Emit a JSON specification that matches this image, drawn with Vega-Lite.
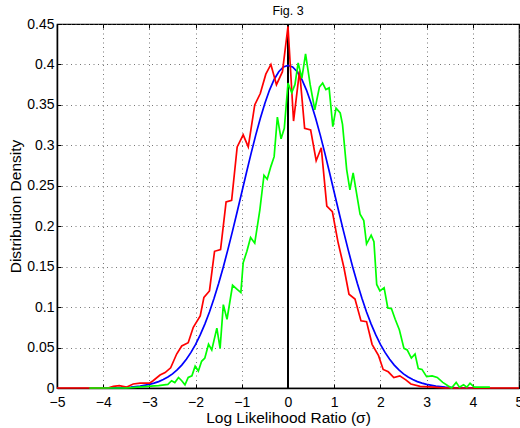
{
  "$schema": "https://vega.github.io/schema/vega-lite/v6.json",
  "width": 462,
  "height": 364,
  "autosize": {"type": "none"},
  "padding": {"left": 57, "top": 24, "right": 1, "bottom": 40},
  "background": "white",
  "title": {"text": "Fig. 3", "fontSize": 12.5, "fontWeight": "normal", "font": "Liberation Sans", "color": "#000", "anchor": "middle", "offset": 0},
  "config": {
    "font": "Liberation Sans",
    "view": {"stroke": "#000", "strokeWidth": 1.2},
    "axis": {
      "domainColor": "#000", "domainWidth": 1.5,
      "tickColor": "#000", "tickWidth": 1, "tickSize": -4,
      "labelFont": "Liberation Sans", "labelFontSize": 14, "labelColor": "#000",
      "titleFont": "Liberation Sans", "titleFontSize": 15.5, "titleFontWeight": "normal", "titleColor": "#000",
      "gridColor": "#555", "gridDash": [1, 3.5], "gridWidth": 1, "gridOpacity": 0.8
    }
  },
  "resolve": {"axis": {"x": "independent", "y": "independent"}},
  "datasets": {
    "zero": [{"x": 0, "y": 0, "y2": 0.45}],
    "blue": [
      {"x": -4, "y": 0.0001}, {"x": -3.8, "y": 0.0003}, {"x": -3.6, "y": 0.0006}, {"x": -3.4, "y": 0.0012}, {"x": -3.2, "y": 0.0024},
      {"x": -3.0, "y": 0.0044}, {"x": -2.9, "y": 0.006}, {"x": -2.8, "y": 0.0079}, {"x": -2.7, "y": 0.0104}, {"x": -2.6, "y": 0.0136},
      {"x": -2.5, "y": 0.0175}, {"x": -2.4, "y": 0.0224}, {"x": -2.3, "y": 0.0283}, {"x": -2.2, "y": 0.0355}, {"x": -2.1, "y": 0.044},
      {"x": -2.0, "y": 0.054}, {"x": -1.9, "y": 0.0656}, {"x": -1.8, "y": 0.079}, {"x": -1.7, "y": 0.094}, {"x": -1.6, "y": 0.1109},
      {"x": -1.5, "y": 0.1295}, {"x": -1.4, "y": 0.1497}, {"x": -1.3, "y": 0.1714}, {"x": -1.2, "y": 0.1942}, {"x": -1.1, "y": 0.2179},
      {"x": -1.0, "y": 0.242}, {"x": -0.9, "y": 0.2661}, {"x": -0.8, "y": 0.2897}, {"x": -0.7, "y": 0.3123}, {"x": -0.6, "y": 0.3332},
      {"x": -0.5, "y": 0.3521}, {"x": -0.4, "y": 0.3683}, {"x": -0.3, "y": 0.3814}, {"x": -0.2, "y": 0.391}, {"x": -0.1, "y": 0.397},
      {"x": 0, "y": 0.3989},
      {"x": 0.1, "y": 0.397}, {"x": 0.2, "y": 0.391}, {"x": 0.3, "y": 0.3814}, {"x": 0.4, "y": 0.3683}, {"x": 0.5, "y": 0.3521},
      {"x": 0.6, "y": 0.3332}, {"x": 0.7, "y": 0.3123}, {"x": 0.8, "y": 0.2897}, {"x": 0.9, "y": 0.2661}, {"x": 1.0, "y": 0.242},
      {"x": 1.1, "y": 0.2179}, {"x": 1.2, "y": 0.1942}, {"x": 1.3, "y": 0.1714}, {"x": 1.4, "y": 0.1497}, {"x": 1.5, "y": 0.1295},
      {"x": 1.6, "y": 0.1109}, {"x": 1.7, "y": 0.094}, {"x": 1.8, "y": 0.079}, {"x": 1.9, "y": 0.0656}, {"x": 2.0, "y": 0.054},
      {"x": 2.1, "y": 0.044}, {"x": 2.2, "y": 0.0355}, {"x": 2.3, "y": 0.0283}, {"x": 2.4, "y": 0.0224}, {"x": 2.5, "y": 0.0175},
      {"x": 2.6, "y": 0.0136}, {"x": 2.7, "y": 0.0104}, {"x": 2.8, "y": 0.0079}, {"x": 2.9, "y": 0.006}, {"x": 3.0, "y": 0.0044},
      {"x": 3.2, "y": 0.0024}, {"x": 3.4, "y": 0.0012}, {"x": 3.6, "y": 0.0006}, {"x": 3.8, "y": 0.0003}, {"x": 4.0, "y": 0.0001}
    ],
    "red": [
      {"x": -5, "y": 0}, {"x": -3.9, "y": 0}, {"x": -3.78, "y": 0.002}, {"x": -3.65, "y": 0.003}, {"x": -3.5, "y": 0.001},
      {"x": -3.35, "y": 0.005}, {"x": -3.2, "y": 0.006}, {"x": -3.0, "y": 0.006}, {"x": -2.92, "y": 0.009}, {"x": -2.77, "y": 0.016},
      {"x": -2.66, "y": 0.019}, {"x": -2.54, "y": 0.025}, {"x": -2.41, "y": 0.042}, {"x": -2.3, "y": 0.052}, {"x": -2.16, "y": 0.056},
      {"x": -2.05, "y": 0.075}, {"x": -1.9, "y": 0.089}, {"x": -1.82, "y": 0.112}, {"x": -1.7, "y": 0.12}, {"x": -1.59, "y": 0.169},
      {"x": -1.46, "y": 0.171}, {"x": -1.34, "y": 0.23}, {"x": -1.22, "y": 0.232}, {"x": -1.1, "y": 0.298}, {"x": -0.97, "y": 0.313},
      {"x": -0.86, "y": 0.298}, {"x": -0.72, "y": 0.35}, {"x": -0.6, "y": 0.364}, {"x": -0.48, "y": 0.388}, {"x": -0.37, "y": 0.4},
      {"x": -0.25, "y": 0.375}, {"x": -0.12, "y": 0.391}, {"x": 0, "y": 0.447}, {"x": 0.12, "y": 0.33}, {"x": 0.25, "y": 0.392},
      {"x": 0.36, "y": 0.321}, {"x": 0.49, "y": 0.319}, {"x": 0.61, "y": 0.281}, {"x": 0.72, "y": 0.297}, {"x": 0.84, "y": 0.225},
      {"x": 0.96, "y": 0.218}, {"x": 1.08, "y": 0.181}, {"x": 1.21, "y": 0.149}, {"x": 1.32, "y": 0.116}, {"x": 1.45, "y": 0.11},
      {"x": 1.58, "y": 0.083}, {"x": 1.7, "y": 0.082}, {"x": 1.82, "y": 0.054}, {"x": 1.96, "y": 0.04}, {"x": 2.06, "y": 0.023},
      {"x": 2.17, "y": 0.02}, {"x": 2.29, "y": 0.013}, {"x": 2.42, "y": 0.015}, {"x": 2.55, "y": 0.01}, {"x": 2.66, "y": 0.005},
      {"x": 2.86, "y": 0.002}, {"x": 3.15, "y": 0.001}, {"x": 3.4, "y": 0}, {"x": 5, "y": 0}
    ],
    "green": [
      {"x": -4.3, "y": 0}, {"x": -3.5, "y": 0}, {"x": -3.25, "y": 0.001}, {"x": -3.05, "y": 0.002}, {"x": -2.8, "y": 0.003},
      {"x": -2.6, "y": 0.0045}, {"x": -2.52, "y": 0.009}, {"x": -2.45, "y": 0.0067}, {"x": -2.37, "y": 0.013}, {"x": -2.3, "y": 0.009},
      {"x": -2.23, "y": 0.004}, {"x": -2.16, "y": 0.013}, {"x": -2.08, "y": 0.015}, {"x": -2.01, "y": 0.027}, {"x": -1.94, "y": 0.021},
      {"x": -1.87, "y": 0.033}, {"x": -1.8, "y": 0.037}, {"x": -1.72, "y": 0.054}, {"x": -1.65, "y": 0.047}, {"x": -1.54, "y": 0.074},
      {"x": -1.47, "y": 0.049}, {"x": -1.4, "y": 0.103}, {"x": -1.32, "y": 0.085}, {"x": -1.2, "y": 0.127}, {"x": -1.1, "y": 0.122},
      {"x": -1.02, "y": 0.118}, {"x": -0.97, "y": 0.155}, {"x": -0.89, "y": 0.169}, {"x": -0.81, "y": 0.186}, {"x": -0.72, "y": 0.179},
      {"x": -0.61, "y": 0.22}, {"x": -0.52, "y": 0.263}, {"x": -0.45, "y": 0.258}, {"x": -0.37, "y": 0.274}, {"x": -0.3, "y": 0.286},
      {"x": -0.23, "y": 0.335}, {"x": -0.15, "y": 0.308}, {"x": -0.08, "y": 0.321}, {"x": 0, "y": 0.377}, {"x": 0.08, "y": 0.365},
      {"x": 0.15, "y": 0.375}, {"x": 0.22, "y": 0.402}, {"x": 0.3, "y": 0.383}, {"x": 0.38, "y": 0.413}, {"x": 0.48, "y": 0.375},
      {"x": 0.58, "y": 0.344}, {"x": 0.68, "y": 0.372}, {"x": 0.75, "y": 0.377}, {"x": 0.82, "y": 0.369}, {"x": 0.89, "y": 0.371},
      {"x": 0.97, "y": 0.323}, {"x": 1.04, "y": 0.346}, {"x": 1.13, "y": 0.34}, {"x": 1.18, "y": 0.326}, {"x": 1.27, "y": 0.27},
      {"x": 1.34, "y": 0.245}, {"x": 1.41, "y": 0.266}, {"x": 1.56, "y": 0.215}, {"x": 1.64, "y": 0.207}, {"x": 1.7, "y": 0.178},
      {"x": 1.8, "y": 0.189}, {"x": 1.86, "y": 0.181}, {"x": 1.92, "y": 0.128}, {"x": 1.99, "y": 0.12}, {"x": 2.08, "y": 0.124},
      {"x": 2.16, "y": 0.099}, {"x": 2.24, "y": 0.098}, {"x": 2.32, "y": 0.085}, {"x": 2.41, "y": 0.072}, {"x": 2.51, "y": 0.049},
      {"x": 2.58, "y": 0.047}, {"x": 2.67, "y": 0.037}, {"x": 2.75, "y": 0.042}, {"x": 2.82, "y": 0.024}, {"x": 2.9, "y": 0.023},
      {"x": 3.0, "y": 0.014}, {"x": 3.12, "y": 0.015}, {"x": 3.23, "y": 0.013}, {"x": 3.35, "y": 0.007}, {"x": 3.47, "y": 0.0025},
      {"x": 3.54, "y": 0}, {"x": 3.64, "y": 0.007}, {"x": 3.71, "y": 0.001}, {"x": 3.8, "y": 0.004}, {"x": 3.87, "y": 0.001},
      {"x": 3.94, "y": 0.006}, {"x": 4.03, "y": 0.001}, {"x": 4.37, "y": 0.001}
    ]
  },
  "layer": [
    {
      "data": {"name": "zero"},
      "mark": {"type": "rule", "color": "#000", "strokeWidth": 2},
      "encoding": {
        "x": {"field": "x", "type": "quantitative", "scale": {"domain": [-5, 5], "nice": false, "zero": false},
              "axis": {"orient": "bottom", "values": [-5, -4, -3, -2, -1, 0, 1, 2, 3, 4, 5], "title": "Log Likelihood Ratio (σ)",
                       "grid": true, "labelPadding": 11, "titlePadding": 1, "labelFlush": false, "labelOverlap": false,
                       "labelFontSize": 14, "titleFontSize": 15.5}},
        "y": {"field": "y", "type": "quantitative", "scale": {"domain": [0, 0.45], "nice": false},
              "axis": {"orient": "left", "values": [0, 0.05, 0.1, 0.15, 0.2, 0.25, 0.3, 0.35, 0.4, 0.45], "format": ".2~f",
                       "title": "Distribution Density", "grid": true, "labelPadding": 7, "titlePadding": 3, "labelFlush": false, "labelOverlap": false,
                       "labelFontSize": 14, "titleFontSize": 15.5}},
        "y2": {"field": "y2"}
      }
    },
    {
      "data": {"name": "blue"},
      "mark": {"type": "line", "color": "#0000ff", "strokeWidth": 1.7},
      "encoding": {
        "x": {"field": "x", "type": "quantitative", "scale": {"domain": [-5, 5], "nice": false, "zero": false},
              "axis": {"orient": "top", "values": [-5, -4, -3, -2, -1, 0, 1, 2, 3, 4, 5], "labels": false, "title": null, "grid": false, "domain": false}},
        "y": {"field": "y", "type": "quantitative", "scale": {"domain": [0, 0.45], "nice": false},
              "axis": {"orient": "right", "values": [0, 0.05, 0.1, 0.15, 0.2, 0.25, 0.3, 0.35, 0.4, 0.45], "labels": false, "title": null, "grid": false, "domain": false}}
      }
    },
    {
      "data": {"name": "red"},
      "mark": {"type": "line", "color": "#ff0000", "strokeWidth": 1.7},
      "encoding": {
        "x": {"field": "x", "type": "quantitative", "scale": {"domain": [-5, 5], "nice": false, "zero": false}, "axis": null},
        "y": {"field": "y", "type": "quantitative", "scale": {"domain": [0, 0.45], "nice": false}, "axis": null}
      }
    },
    {
      "data": {"name": "green"},
      "mark": {"type": "line", "color": "#00ff00", "strokeWidth": 1.7},
      "encoding": {
        "x": {"field": "x", "type": "quantitative", "scale": {"domain": [-5, 5], "nice": false, "zero": false}, "axis": null},
        "y": {"field": "y", "type": "quantitative", "scale": {"domain": [0, 0.45], "nice": false}, "axis": null}
      }
    }
  ]
}
